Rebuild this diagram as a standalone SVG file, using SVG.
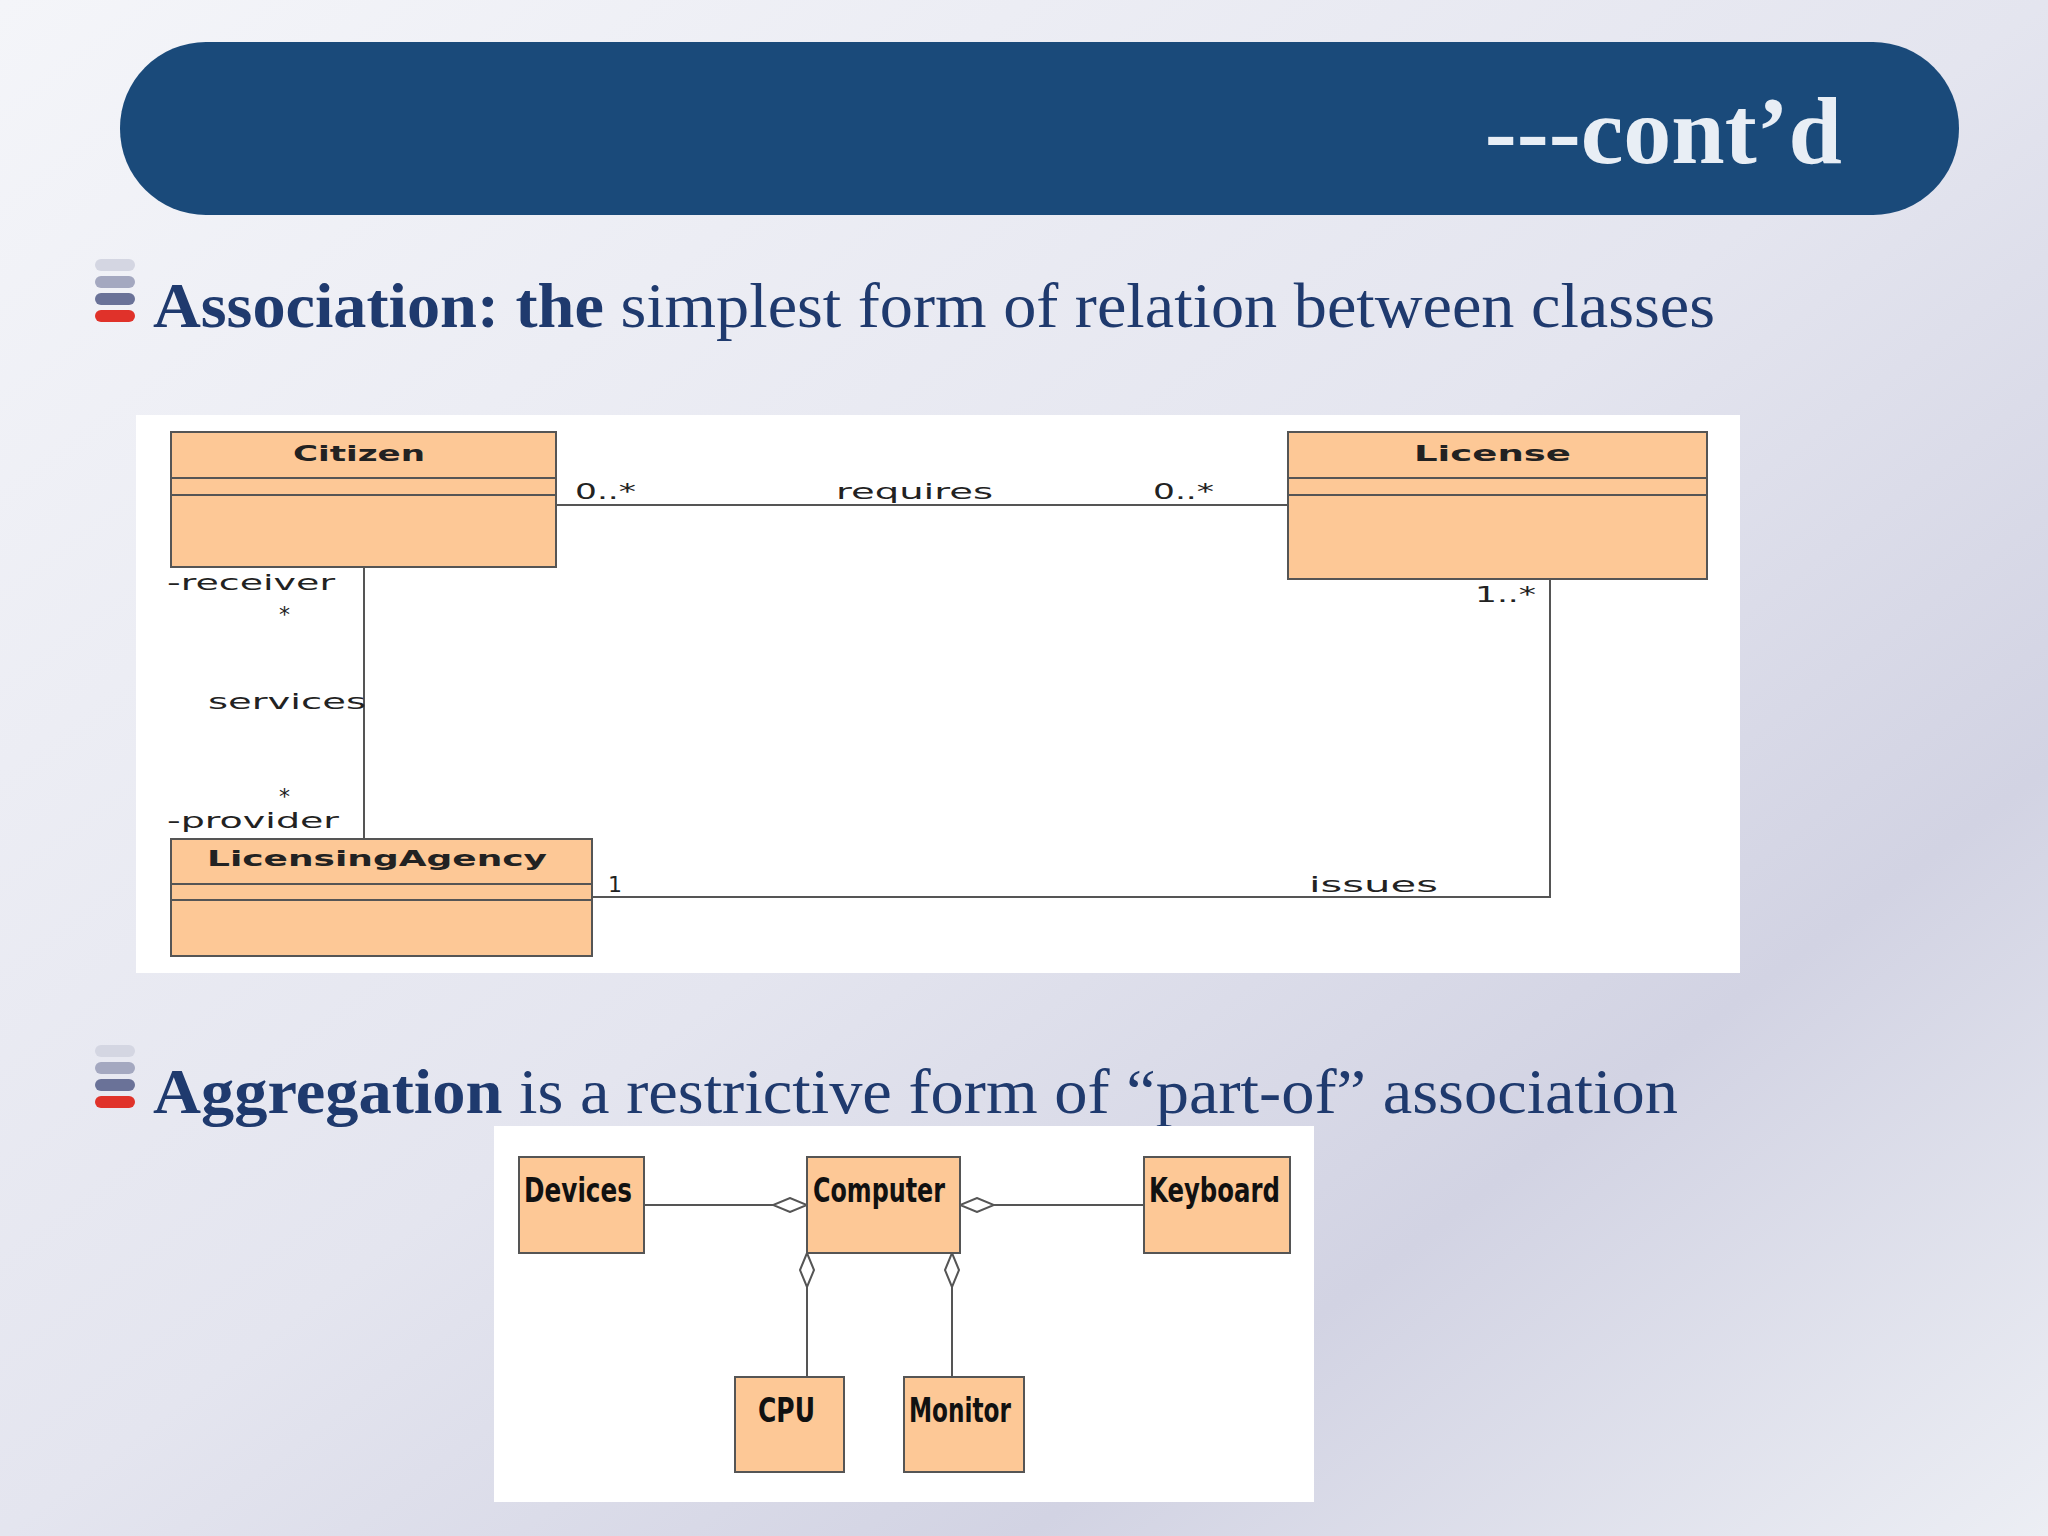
<svg xmlns="http://www.w3.org/2000/svg" width="2048" height="1536" viewBox="0 0 2048 1536">
<defs>
<linearGradient id="bg" x1="0" y1="0" x2="1" y2="1">
<stop offset="0" stop-color="#f4f5f9"/><stop offset="0.5" stop-color="#e4e5ef"/><stop offset="0.75" stop-color="#d2d3e3"/><stop offset="1" stop-color="#eceef4"/>
</linearGradient>
<g id="bul">
<rect x="0" y="0" width="40" height="12" rx="6" fill="#d4d6e2"/>
<rect x="0" y="17" width="40" height="12" rx="6" fill="#a4a8c0"/>
<rect x="0" y="34" width="40" height="12" rx="6" fill="#6a7298"/>
<rect x="0" y="51" width="40" height="12" rx="6" fill="#e0322a"/>
</g>
<marker id="dia" viewBox="0 0 34 16" refX="34" refY="8" markerWidth="34" markerHeight="16" markerUnits="userSpaceOnUse" orient="auto">
<path d="M0,8 L17,1 L34,8 L17,15 Z" fill="#fff" stroke="#555" stroke-width="2"/>
</marker>
</defs>
<style>
.box{fill:#fdc896;stroke:#555;stroke-width:2}
.ln{stroke:#555;stroke-width:2;fill:none}
.u{font-family:"DejaVu Sans",sans-serif;font-size:22px;fill:#222}
.ub{font-family:"DejaVu Sans",sans-serif;font-size:22px;font-weight:bold;fill:#222}
.ag{font-family:"DejaVu Sans Condensed","DejaVu Sans",sans-serif;font-size:33px;font-weight:bold;fill:#111}
.h{font-family:"Liberation Serif",serif;font-size:64px;fill:#1f3a6e}
</style>
<rect width="2048" height="1536" fill="url(#bg)"/>
<g id="header">
<rect x="120" y="42" width="1839" height="173" rx="86" fill="#1a4a7a"/>
<text x="1842" y="163" text-anchor="end" font-family="Liberation Serif,serif" font-weight="bold" font-size="96" fill="#e8eef5">---cont’d</text>
</g>
<use href="#bul" x="95" y="259"/>
<text class="h" x="153" y="327" textLength="1562" lengthAdjust="spacingAndGlyphs"><tspan font-weight="bold">Association: the</tspan> simplest form of relation between classes</text>
<use href="#bul" x="95" y="1045"/>
<text class="h" x="153" y="1113" textLength="1525" lengthAdjust="spacingAndGlyphs"><tspan font-weight="bold">Aggregation</tspan> is a restrictive form of “part-of” association</text>

<rect x="136" y="415" width="1604" height="558" fill="#fff"/>
<g id="connectors1">
<line class="ln" x1="556" y1="505" x2="1288" y2="505"/>
<line class="ln" x1="364" y1="567" x2="364" y2="839"/>
<polyline class="ln" points="592,897 1550,897 1550,579"/>
</g>
<g id="citizen"><rect class="box" x="171" y="432" width="385" height="135"/><line class="ln" x1="171" y1="478" x2="556" y2="478"/><line class="ln" x1="171" y1="495" x2="556" y2="495"/><text class="ub" x="293" y="461" textLength="132" lengthAdjust="spacingAndGlyphs">Citizen</text></g>
<g id="license"><rect class="box" x="1288" y="432" width="419" height="147"/><line class="ln" x1="1288" y1="478" x2="1707" y2="478"/><line class="ln" x1="1288" y1="495" x2="1707" y2="495"/><text class="ub" x="1414" y="461" textLength="157" lengthAdjust="spacingAndGlyphs">License</text></g>
<g id="agency"><rect class="box" x="171" y="839" width="421" height="117"/><line class="ln" x1="171" y1="884" x2="592" y2="884"/><line class="ln" x1="171" y1="900" x2="592" y2="900"/><text class="ub" x="207" y="866" textLength="340" lengthAdjust="spacingAndGlyphs">LicensingAgency</text></g>
<g id="labels1">
<text class="u" x="575" y="499" textLength="61" lengthAdjust="spacingAndGlyphs">0..*</text>
<text class="u" x="836" y="499" textLength="157" lengthAdjust="spacingAndGlyphs">requires</text>
<text class="u" x="1153" y="499" textLength="61" lengthAdjust="spacingAndGlyphs">0..*</text>
<text class="u" x="167" y="590" textLength="168" lengthAdjust="spacingAndGlyphs">-receiver</text>
<text class="u" x="279" y="622">*</text>
<text class="u" x="208" y="709" textLength="158" lengthAdjust="spacingAndGlyphs">services</text>
<text class="u" x="279" y="804">*</text>
<text class="u" x="167" y="828" textLength="172" lengthAdjust="spacingAndGlyphs">-provider</text>
<text class="u" x="608" y="892">1</text>
<text class="u" x="1309" y="892" textLength="129" lengthAdjust="spacingAndGlyphs">issues</text>
<text class="u" x="1475" y="602" textLength="61" lengthAdjust="spacingAndGlyphs">1..*</text>
</g>

<rect x="494" y="1126" width="820" height="376" fill="#fff"/>
<g id="connectors2">
<line class="ln" x1="644" y1="1205" x2="807" y2="1205" marker-end="url(#dia)"/>
<line class="ln" x1="1144" y1="1205" x2="960" y2="1205" marker-end="url(#dia)"/>
<line class="ln" x1="807" y1="1377" x2="807" y2="1253" marker-end="url(#dia)"/>
<line class="ln" x1="952" y1="1377" x2="952" y2="1253" marker-end="url(#dia)"/>
</g>
<g id="devices"><rect class="box" x="519" y="1157" width="125" height="96"/><text class="ag" x="524" y="1202" textLength="108" lengthAdjust="spacingAndGlyphs">Devices</text></g>
<g id="computer"><rect class="box" x="807" y="1157" width="153" height="96"/><text class="ag" x="813" y="1202" textLength="132" lengthAdjust="spacingAndGlyphs">Computer</text></g>
<g id="keyboard"><rect class="box" x="1144" y="1157" width="146" height="96"/><text class="ag" x="1149" y="1202" textLength="131" lengthAdjust="spacingAndGlyphs">Keyboard</text></g>
<g id="cpu"><rect class="box" x="735" y="1377" width="109" height="95"/><text class="ag" x="758" y="1422" textLength="57" lengthAdjust="spacingAndGlyphs">CPU</text></g>
<g id="monitor"><rect class="box" x="904" y="1377" width="120" height="95"/><text class="ag" x="909" y="1422" textLength="102" lengthAdjust="spacingAndGlyphs">Monitor</text></g>
</svg>
